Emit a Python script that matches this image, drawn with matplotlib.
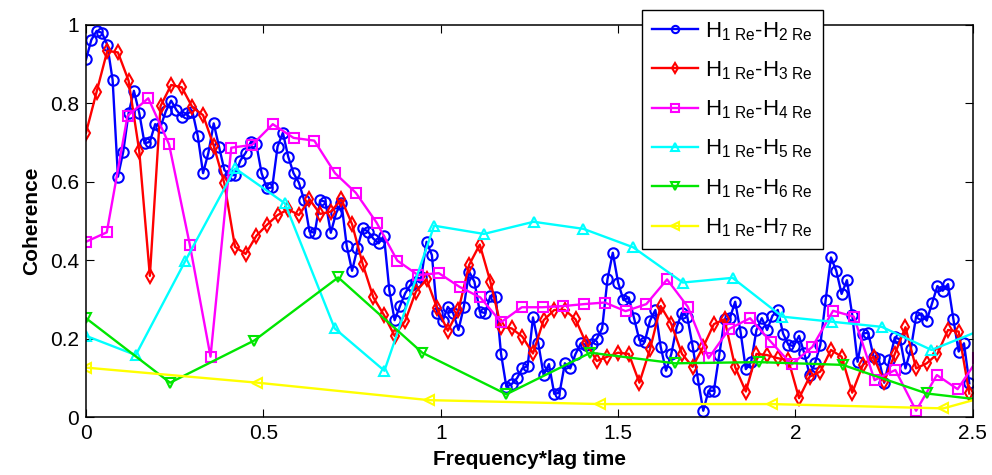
import numpy as np
import matplotlib
matplotlib.use("Agg")
import matplotlib.pyplot as plt

plt.rcParams["font.family"] = ["Liberation Sans", "DejaVu Sans"]
plt.rcParams["mathtext.fontset"] = "custom"
plt.rcParams["mathtext.rm"] = "Liberation Sans"
plt.rcParams["mathtext.it"] = "Liberation Sans"

# frequency*lag spacing of each pair
step_h2 = 0.0150
step_h3 = 0.0300
step_h4 = 0.0585
step_h5 = 0.1402
step_h6 = 0.2370
step_h7 = 0.4834

coh_h2 = [
    0.912, 0.962, 0.985, 0.98, 0.949, 0.86, 0.613, 0.677, 0.775, 0.832,
    0.776, 0.698, 0.702, 0.747, 0.74, 0.78, 0.807, 0.783, 0.766, 0.775,
    0.779, 0.717, 0.622, 0.674, 0.749, 0.69, 0.63, 0.617, 0.617, 0.654,
    0.674, 0.702, 0.696, 0.622, 0.583, 0.586, 0.69, 0.725, 0.664, 0.622,
    0.598,
    0.553, 0.473, 0.47, 0.553, 0.549, 0.47, 0.52, 0.547, 0.436, 0.373,
    0.43, 0.481, 0.473, 0.455, 0.443, 0.462, 0.324, 0.247, 0.283, 0.316,
    0.337, 0.345, 0.356, 0.447, 0.413, 0.265, 0.244, 0.281, 0.265, 0.222,
    0.281, 0.371, 0.345, 0.269, 0.265, 0.309,
    0.307, 0.161, 0.077, 0.084, 0.099, 0.124, 0.13, 0.254, 0.188, 0.107,
    0.135, 0.059, 0.062, 0.137, 0.124, 0.161, 0.188, 0.184, 0.186, 0.20,
    0.226, 0.351, 0.419, 0.343, 0.298, 0.305, 0.252, 0.196, 0.192, 0.246,
    0.273, 0.179, 0.118, 0.161, 0.229, 0.266, 0.256, 0.181, 0.096, 0.016,
    0.067, 0.067, 0.158,
    0.249, 0.252, 0.294, 0.218, 0.122, 0.14, 0.222, 0.252, 0.222, 0.258,
    0.273, 0.213, 0.184, 0.181, 0.207, 0.162, 0.107, 0.137, 0.184, 0.298,
    0.407, 0.373, 0.314, 0.349, 0.26, 0.141, 0.213, 0.215, 0.154, 0.147,
    0.0875, 0.145, 0.203, 0.198, 0.124, 0.173, 0.256, 0.264, 0.246, 0.29,
    0.334, 0.322, 0.339, 0.25, 0.167, 0.188, 0.086,
]
coh_h3 = [
    0.725, 0.83, 0.934, 0.930, 0.858, 0.679, 0.36, 0.793, 0.847, 0.841,
    0.79, 0.770, 0.692, 0.596, 0.434, 0.416, 0.462, 0.49, 0.515, 0.53,
    0.515, 0.555, 0.518, 0.524, 0.555, 0.492, 0.39, 0.305, 0.26, 0.207,
    0.246, 0.32, 0.351, 0.277, 0.22, 0.273, 0.388, 0.44, 0.345, 0.23,
    0.226, 0.205, 0.162, 0.247, 0.273, 0.273, 0.249, 0.188, 0.143, 0.154,
    0.164, 0.161, 0.0875, 0.173, 0.283, 0.237, 0.161, 0.128, 0.179, 0.237,
    0.249, 0.127, 0.065, 0.161, 0.158, 0.15, 0.145, 0.048, 0.103, 0.116,
    0.171, 0.154, 0.062, 0.133, 0.154, 0.09, 0.161, 0.229, 0.124, 0.137,
    0.161, 0.222, 0.218, 0.06,
]
coh_h4 = [
    0.447, 0.471, 0.768, 0.813, 0.696, 0.44, 0.154, 0.687, 0.694, 0.747,
    0.712, 0.705, 0.622, 0.572, 0.496, 0.399, 0.362, 0.367, 0.332, 0.305,
    0.242, 0.28, 0.28, 0.283, 0.288, 0.292, 0.27, 0.288, 0.351, 0.281,
    0.15, 0.225, 0.252, 0.192, 0.134, 0.179, 0.271, 0.256, 0.094, 0.12,
    0.016, 0.107, 0.071, 0.15,
]
coh_h5 = [
    0.207, 0.158, 0.399, 0.634, 0.545, 0.226, 0.118, 0.488, 0.467, 0.498,
    0.48, 0.433, 0.343, 0.355, 0.256, 0.243, 0.230, 0.171, 0.222,
]
coh_h6 = [0.252, 0.0875, 0.195, 0.356, 0.164, 0.058, 0.164, 0.137, 0.14, 0.133, 0.06, 0.035]
coh_h7 = [0.126, 0.0875, 0.043, 0.033, 0.033, 0.022, 0.143]

series = [
    (coh_h2, step_h2, "#0000ff", "o", r"H$_{\mathrm{1\ Re}}$-H$_{\mathrm{2\ Re}}$"),
    (coh_h3, step_h3, "#ff0000", "d", r"H$_{\mathrm{1\ Re}}$-H$_{\mathrm{3\ Re}}$"),
    (coh_h4, step_h4, "#ff00ff", "s", r"H$_{\mathrm{1\ Re}}$-H$_{\mathrm{4\ Re}}$"),
    (coh_h5, step_h5, "#00ffff", "^", r"H$_{\mathrm{1\ Re}}$-H$_{\mathrm{5\ Re}}$"),
    (coh_h6, step_h6, "#00e600", "v", r"H$_{\mathrm{1\ Re}}$-H$_{\mathrm{6\ Re}}$"),
    (coh_h7, step_h7, "#ffff00", "<", r"H$_{\mathrm{1\ Re}}$-H$_{\mathrm{7\ Re}}$"),
]

x_ticks = [0, 0.5, 1, 1.5, 2, 2.5]
x_tick_labels = ["0", "0.5", "1", "1.5", "2", "2.5"]
y_ticks = [0, 0.2, 0.4, 0.6, 0.8, 1]
y_tick_labels = ["0", "0.2", "0.4", "0.6", "0.8", "1"]

fig = plt.figure(figsize=(9.92, 4.75), dpi=100)
ax = fig.add_axes([0.0867, 0.1221, 0.894, 0.8253])

for vals, step, color, marker, label in series:
    x = np.arange(len(vals)) * step
    ax.plot(x, vals, color=color, marker=marker, markersize=7.5,
            markerfacecolor="none", markeredgewidth=1.5, linewidth=1.7,
            label=label)

ax.set_xlim(0, 2.5)
ax.set_ylim(0, 1)
ax.set_xticks(x_ticks)
ax.set_xticklabels(x_tick_labels)
ax.set_yticks(y_ticks)
ax.set_yticklabels(y_tick_labels)
ax.tick_params(direction="in", length=6, width=0.8, labelsize=15,
               top=True, right=True, pad=5)
for sp in ax.spines.values():
    sp.set_linewidth(1.1)

ax.set_xlabel("Frequency*lag time", fontsize=15, fontweight="bold", labelpad=5)
ax.set_ylabel("Coherence", fontsize=15, fontweight="bold", labelpad=6)

leg = ax.legend(loc="upper left", bbox_to_anchor=(0.647, 0.979),
                bbox_transform=fig.transFigure, borderaxespad=0,
                prop={"size": 16}, handlelength=2.1, handletextpad=0.3,
                labelspacing=0.75, borderpad=0.45, fancybox=False,
                framealpha=1, edgecolor="black", markerscale=0.7)
leg.get_frame().set_linewidth(1.0)

fig.savefig("out.png", dpi=100)
